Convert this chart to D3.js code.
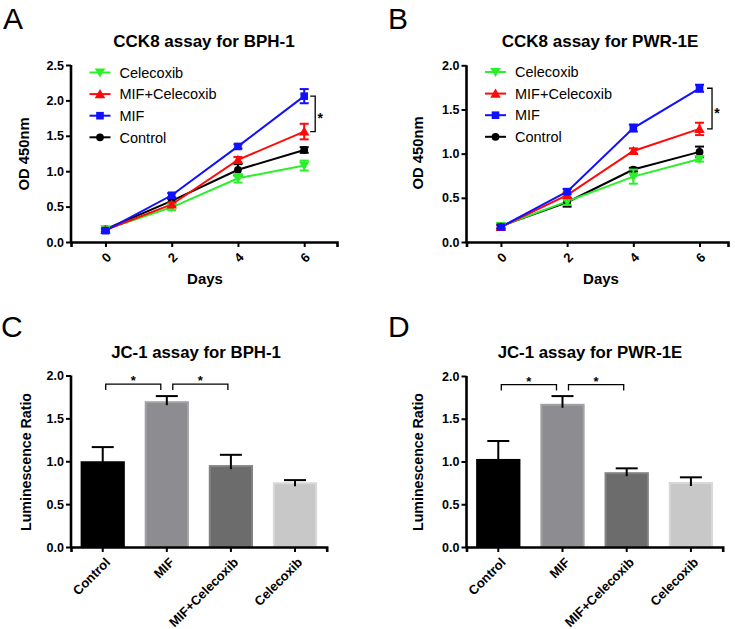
<!DOCTYPE html>
<html>
<head>
<meta charset="utf-8">
<script src="https://cdn.jsdelivr.net/npm/d3@7"></script>
<style>
  html, body { margin: 0; padding: 0; background: #fff; }
  svg { display: block; }
</style>
</head>
<body>
<svg id="chart" width="735" height="629"></svg>
<script>
// ---------------- DATA ----------------
const days = [0, 2, 4, 6];
const dayTickLabels = ["0", "2", "4", "6"];
const seriesNames = ["Celecoxib", "MIF+Celecoxib", "MIF", "Control"];

// Panel A: CCK8 assay for BPH-1 (OD 450nm)
const bphCelecoxib    = [0.18, 0.49, 0.90, 1.08];
const bphCelecoxibErr = [0.02, 0.04, 0.06, 0.07];
const bphMifCele      = [0.17, 0.53, 1.16, 1.56];
const bphMifCeleErr   = [0.02, 0.03, 0.04, 0.11];
const bphMif          = [0.16, 0.66, 1.35, 2.06];
const bphMifErr       = [0.02, 0.03, 0.03, 0.10];
const bphControl      = [0.18, 0.58, 1.02, 1.30];
const bphControlErr   = [0.02, 0.03, 0.08, 0.04];
const bphYTicks = [0, 0.5, 1.0, 1.5, 2.0, 2.5];

// Panel B: CCK8 assay for PWR-1E (OD 450nm)
const pwrCelecoxib    = [0.18, 0.46, 0.74, 0.94];
const pwrCelecoxibErr = [0.02, 0.04, 0.08, 0.03];
const pwrMifCele      = [0.17, 0.53, 1.03, 1.28];
const pwrMifCeleErr   = [0.02, 0.03, 0.03, 0.07];
const pwrMif          = [0.17, 0.57, 1.29, 1.74];
const pwrMifErr       = [0.02, 0.03, 0.04, 0.04];
const pwrControl      = [0.18, 0.45, 0.82, 1.02];
const pwrControlErr   = [0.02, 0.05, 0.02, 0.06];
const pwrYTicks = [0, 0.5, 1.0, 1.5, 2.0];

// Panels C/D: JC-1 assay (Luminescence Ratio)
const barCategories = ["Control", "MIF", "MIF+Celecoxib", "Celecoxib"];
const bphJc1    = [1.00, 1.70, 0.955, 0.755];
const bphJc1Err = [0.165, 0.06, 0.12, 0.025];
const pwrJc1    = [1.03, 1.675, 0.875, 0.76];
const pwrJc1Err = [0.21, 0.09, 0.045, 0.055];
const barYTicks = [0, 0.5, 1.0, 1.5, 2.0];

// ---------------- STYLE ----------------
const FONT = "'Liberation Sans', Arial, Helvetica, sans-serif";
const seriesColors = { "Celecoxib": "#2af02a", "MIF+Celecoxib": "#ff0a0a", "MIF": "#1010ff", "Control": "#000000" };
const seriesSymbols = { "Celecoxib": "down", "MIF+Celecoxib": "up", "MIF": "square", "Control": "circle" };
const barFills   = ["#000000", "#8d8d91", "#6c6c6c", "#c8c8c8"];
const barStrokes = ["#000000", "#a2a2a5", "#828282", "#d9d9d9"];

const svg = d3.select("#chart");

function symbolPath(kind) {
  if (kind === "circle") return d3.symbol(d3.symbolCircle, 48)();
  if (kind === "square") return d3.symbol(d3.symbolSquare, 58)();
  return d3.symbol(d3.symbolTriangle, 48)();
}
function drawSymbol(g, kind, cx, cy, color) {
  const p = g.append("path").attr("d", symbolPath(kind)).attr("fill", color);
  let t = `translate(${cx},${cy})`;
  if (kind === "up") t = `translate(${cx},${cy + 1})`;
  if (kind === "down") t = `translate(${cx},${cy - 1}) rotate(180)`;
  p.attr("transform", t);
}

function styleAxis(g) {
  g.selectAll(".domain").attr("stroke", "#000").attr("stroke-width", 2.6);
  g.selectAll(".tick line").attr("stroke", "#000").attr("stroke-width", 2);
  g.selectAll("text").attr("font-family", FONT).attr("font-weight", "bold").attr("font-size", 12.5).attr("fill", "#000");
}

function linePanel(cfg) {
  const g = svg.append("g");
  const x = d3.scaleLinear().domain(cfg.xDomain).range([cfg.left, cfg.right]);
  const y = d3.scaleLinear().domain([0, cfg.yMax]).range([cfg.bottom, cfg.top]);

  // axes
  const yAxis = d3.axisLeft(y).tickValues(cfg.yTicks).tickFormat(d3.format(".1f")).tickSizeOuter(0).tickSize(5).tickPadding(2);
  const gy = g.append("g").attr("transform", `translate(${cfg.left},0)`).call(yAxis);
  gy.select(".domain").attr("d", `M0,${cfg.bottom + 1.3}V${y(cfg.yMax)}`);
  styleAxis(gy);

  const xAxis = d3.axisBottom(x).tickValues(days).tickFormat((d, i) => dayTickLabels[i]).tickSizeOuter(0).tickSize(5);
  const gx = g.append("g").attr("transform", `translate(0,${cfg.bottom})`).call(xAxis);
  styleAxis(gx);
  gx.selectAll("text").attr("y", 0).attr("dy", "0.35em").attr("text-anchor", "end").attr("font-size", 13)
    .attr("transform", "translate(3,13) rotate(-45)");

  // series
  const series = seriesNames.map(n => ({ name: n, values: cfg.data[n], errs: cfg.err[n] }));
  const line = d3.line().x((d, i) => x(days[i])).y(d => y(d));
  const drawOrder = ["Control", "Celecoxib", "MIF+Celecoxib", "MIF"];
  drawOrder.forEach(n => {
    const s = series.find(z => z.name === n);
    g.append("path").datum(s.values).attr("d", line).attr("fill", "none")
      .attr("stroke", seriesColors[n]).attr("stroke-width", 2);
  });
  drawOrder.forEach(n => {
    const s = series.find(z => z.name === n);
    const col = seriesColors[n];
    s.values.forEach((v, i) => {
      const cx = x(days[i]), e = s.errs[i];
      const y1 = y(v + e), y2 = y(v - e);
      g.append("line").attr("x1", cx).attr("x2", cx).attr("y1", y1).attr("y2", y2).attr("stroke", col).attr("stroke-width", 2);
      [y1, y2].forEach(yy => g.append("line").attr("x1", cx - 4.5).attr("x2", cx + 4.5).attr("y1", yy).attr("y2", yy).attr("stroke", col).attr("stroke-width", 2));
      drawSymbol(g, seriesSymbols[n], cx, y(v), col);
    });
  });

  // significance bracket at day 6 between MIF and MIF+Celecoxib
  const bx = x(6) + cfg.bracketOffset;
  const yTop = y(cfg.data["MIF"][3]), yBot = y(cfg.data["MIF+Celecoxib"][3]);
  g.append("path").attr("d", `M${bx - 5},${yTop}H${bx}V${yBot}H${bx - 5}`).attr("fill", "none").attr("stroke", "#000").attr("stroke-width", 1.3);
  g.append("text").attr("x", bx + 5).attr("y", (yTop + yBot) / 2 + 9).attr("font-family", FONT).attr("font-weight", "bold")
    .attr("font-size", 14).attr("text-anchor", "middle").text("*");

  // legend
  seriesNames.forEach((n, i) => {
    const ly = cfg.legendY + i * 21.6;
    const col = seriesColors[n];
    g.append("line").attr("x1", cfg.left + 18.5).attr("x2", cfg.left + 39.5).attr("y1", ly).attr("y2", ly).attr("stroke", col).attr("stroke-width", 2);
    drawSymbol(g, seriesSymbols[n], cfg.left + 29, ly, col);
    g.append("text").attr("x", cfg.left + 48.5).attr("y", ly + 5.2).attr("font-family", FONT).attr("font-size", 14.5).attr("fill", "#000").text(n);
  });

  // labels
  g.append("text").attr("x", cfg.titleX).attr("y", 47).attr("text-anchor", "middle").attr("font-family", FONT)
    .attr("font-weight", "bold").attr("font-size", 17).text(cfg.title);
  g.append("text").attr("transform", `translate(${cfg.yLabelX},${cfg.yLabelY}) rotate(-90)`).attr("text-anchor", "middle")
    .attr("font-family", FONT).attr("font-weight", "bold").attr("font-size", 14.8).text("OD 450nm");
  g.append("text").attr("x", cfg.xLabelX).attr("y", 284).attr("text-anchor", "middle").attr("font-family", FONT)
    .attr("font-weight", "bold").attr("font-size", 15).text("Days");
  g.append("text").attr("x", cfg.letterX).attr("y", 28.5).attr("font-family", FONT).attr("font-size", 30).text(cfg.letter);
}

function barPanel(cfg) {
  const g = svg.append("g");
  const x = d3.scaleBand().domain(barCategories).range([cfg.left, cfg.right]).paddingInner(0.31).paddingOuter(0.15);
  const y = d3.scaleLinear().domain([0, 2]).range([cfg.bottom, cfg.top]);

  // bars
  barCategories.forEach((c, i) => {
    const v = cfg.values[i], e = cfg.errs[i];
    const cx = x(c) + x.bandwidth() / 2;
    g.append("line").attr("x1", cx - 11).attr("x2", cx + 11).attr("y1", y(v + e)).attr("y2", y(v + e)).attr("stroke", "#000").attr("stroke-width", 2);
    g.append("rect").attr("x", x(c) + 1).attr("y", y(v) + 1).attr("width", x.bandwidth() - 2).attr("height", y(0) - y(v) - 1)
      .attr("fill", barFills[i]).attr("stroke", barStrokes[i]).attr("stroke-width", 2);
    g.append("line").attr("x1", cx).attr("x2", cx).attr("y1", y(v) + 4).attr("y2", y(v + e)).attr("stroke", "#000").attr("stroke-width", 2);
  });

  // axes
  const yAxis = d3.axisLeft(y).tickValues(barYTicks).tickFormat(d3.format(".1f")).tickSizeOuter(0).tickSize(5).tickPadding(2);
  const gy = g.append("g").attr("transform", `translate(${cfg.left},0)`).call(yAxis);
  gy.select(".domain").attr("d", `M0,${cfg.bottom + 1.3}V${y(2)}`);
  styleAxis(gy);

  const xAxis = d3.axisBottom(x).tickSizeOuter(0).tickSize(5);
  const gx = g.append("g").attr("transform", `translate(0,${cfg.bottom})`).call(xAxis);
  styleAxis(gx);
  gx.selectAll("text").attr("y", 0).attr("dy", "0.35em").attr("text-anchor", "end").attr("font-size", 13)
    .attr("transform", "translate(5,13) rotate(-45)");

  // brackets
  const c = barCategories.map(k => x(k) + x.bandwidth() / 2);
  const by = y(1.9);
  [[c[0] + 3, c[1] - 6], [c[1] + 6, c[2] - 3]].forEach(([a, b]) => {
    g.append("path").attr("d", `M${a},${by + 6}V${by}H${b}V${by + 6}`).attr("fill", "none").attr("stroke", "#000").attr("stroke-width", 1.3);
    g.append("text").attr("x", (a + b) / 2).attr("y", by + 1).attr("text-anchor", "middle").attr("font-family", FONT)
      .attr("font-weight", "bold").attr("font-size", 13).text("*");
  });

  // labels
  g.append("text").attr("x", cfg.titleX).attr("y", 358).attr("text-anchor", "middle").attr("font-family", FONT)
    .attr("font-weight", "bold").attr("font-size", 16.8).text(cfg.title);
  g.append("text").attr("transform", `translate(${cfg.yLabelX},462) rotate(-90)`).attr("text-anchor", "middle")
    .attr("font-family", FONT).attr("font-weight", "bold").attr("font-size", 14.2).text("Luminescence Ratio");
  g.append("text").attr("x", cfg.letterX).attr("y", 337).attr("font-family", FONT).attr("font-size", 30).text(cfg.letter);
}

linePanel({
  letter: "A", letterX: 3, title: "CCK8 assay for BPH-1", titleX: 204,
  left: 71, right: 337, top: 65, bottom: 242, xDomain: [-1.04, 6.99], yMax: 2.5, yTicks: bphYTicks,
  data: { "Celecoxib": bphCelecoxib, "MIF+Celecoxib": bphMifCele, "MIF": bphMif, "Control": bphControl },
  err:  { "Celecoxib": bphCelecoxibErr, "MIF+Celecoxib": bphMifCeleErr, "MIF": bphMifErr, "Control": bphControlErr },
  bracketOffset: 11, legendY: 72.5, yLabelX: 29, yLabelY: 154, xLabelX: 205
});
linePanel({
  letter: "B", letterX: 388, title: "CCK8 assay for PWR-1E", titleX: 600,
  left: 466.5, right: 728, top: 65.3, bottom: 242, xDomain: [-1.04, 6.86], yMax: 2.0, yTicks: pwrYTicks,
  data: { "Celecoxib": pwrCelecoxib, "MIF+Celecoxib": pwrMifCele, "MIF": pwrMif, "Control": pwrControl },
  err:  { "Celecoxib": pwrCelecoxibErr, "MIF+Celecoxib": pwrMifCeleErr, "MIF": pwrMifErr, "Control": pwrControlErr },
  bracketOffset: 12.5, legendY: 72, yLabelX: 423, yLabelY: 153, xLabelX: 601
});
barPanel({
  letter: "C", letterX: 1, title: "JC-1 assay for BPH-1", titleX: 196,
  left: 71, right: 326.7, top: 375.5, bottom: 547, values: bphJc1, errs: bphJc1Err, yLabelX: 31
});
barPanel({
  letter: "D", letterX: 388, title: "JC-1 assay for PWR-1E", titleX: 590,
  left: 466.5, right: 722.7, top: 376, bottom: 547, values: pwrJc1, errs: pwrJc1Err, yLabelX: 423
});
</script>
</body>
</html>
